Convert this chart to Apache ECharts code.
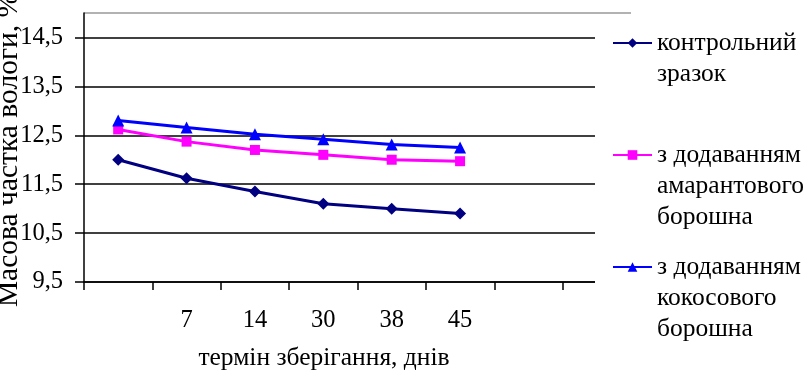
<!DOCTYPE html>
<html>
<head>
<meta charset="utf-8">
<script src="https://cdn.jsdelivr.net/npm/echarts@6/dist/echarts.min.js"></script>
<style>
    html, body { margin: 0; padding: 0; background: #fff; }
    #chart { width: 807px; height: 376px; }
</style>
</head>
<body>
<div id="chart"></div>
<script>
// термін зберігання (дні) - перша і дві останні клітинки порожні, як в оригіналі
const days = ['', '7', '14', '30', '38', '45', '', '']
// масова частка вологи, %
const controlSample = [12.0, 11.62, 11.35, 11.1, 11.0, 10.9]
const amaranthFlour = [12.62, 12.37, 12.2, 12.1, 12.0, 11.97]
const coconutFlour = [12.8, 12.66, 12.52, 12.42, 12.31, 12.25]
const seriesNames = [
    'контрольний\nзразок',
    'з додаванням\nамарантового\nборошна',
    'з додаванням\nкокосового\nборошна'
]
// вісь Y
const yMin = 9.5
const yMax = 15
const yStep = 1

const font = "'Liberation Serif', 'Times New Roman', serif"
const lineH = 31

// окрема легенда на кожен ряд; порожні рядки зверху, щоб значок стояв навпроти першого рядка
function makeLegend (name, top) {
    const lines = name.split('\n').length
    return {
        data: [name],
        orient: 'vertical',
        left: 612,
        top: top,
        padding: 0,
        itemWidth: 39,
        itemHeight: 12,
        selectedMode: false,
        formatter: (n) => '\n'.repeat(lines - 1) + n,
        textStyle: {
            fontFamily: font,
            fontSize: 25.5,
            color: '#000',
            lineHeight: lineH
        }
    }
}

const chart = echarts.init(document.getElementById('chart'))
const option = {
    animation: false,
    backgroundColor: '#fff',
    textStyle: { fontFamily: font },
    grid: {
        left: 84,
        top: 13,
        right: 176,
        bottom: 94,
        outerBoundsMode: 'none'
    },
    legend: [
        makeLegend(seriesNames[0], -3.5),
        makeLegend(seriesNames[1], 77.5),
        makeLegend(seriesNames[2], 189.5)
    ],
    // біла плашка під легендою (область побудови в оригіналі заходить під легенду)
    graphic: [{
        type: 'rect',
        left: 595,
        top: 18,
        z: 1,
        shape: { width: 212, height: 358 },
        style: { fill: '#fff' }
    }],
    xAxis: {
        type: 'category',
        data: days,
        boundaryGap: true,
        axisLine: { lineStyle: { color: '#000', width: 1.5 } },
        axisTick: { show: true, interval: 0, length: 8, lineStyle: { color: '#000', width: 1.5 } },
        axisLabel: { interval: 0, fontFamily: font, fontSize: 24.5, color: '#000', margin: 26 },
        name: 'термін зберігання, днів',
        nameLocation: 'middle',
        nameGap: 63,
        nameMoveOverlap: false,
        nameTextStyle: { fontFamily: font, fontSize: 25.5, color: '#000', padding: [0, 67, 0, 0] }
    },
    yAxis: {
        type: 'value',
        min: yMin,
        max: yMax,
        interval: yStep,
        axisLine: { show: true, lineStyle: { color: '#000', width: 1.5 } },
        axisTick: { show: true, length: 9, lineStyle: { color: '#000', width: 1.5 } },
        axisLabel: {
            fontFamily: font,
            fontSize: 24.5,
            color: '#000',
            margin: 21,
            showMaxLabel: false,
            formatter: (v) => v.toFixed(1).replace('.', ',')
        },
        splitLine: {
            show: true,
            lineStyle: { color: ['#000', '#000', '#000', '#000', '#000', '#000', '#999'], width: 1.5 }
        },
        name: 'Масова частка вологи, %',
        nameLocation: 'middle',
        nameGap: 60,
        nameMoveOverlap: false,
        nameTextStyle: { fontFamily: font, fontSize: 29.5, color: '#000', padding: [0, 5, 0, 0] }
    },
    series: [
        {
            name: seriesNames[0],
            type: 'line',
            data: controlSample,
            symbol: 'diamond',
            symbolSize: 12,
            lineStyle: { color: '#000080', width: 3 },
            itemStyle: { color: '#000080' }
        },
        {
            name: seriesNames[1],
            type: 'line',
            data: amaranthFlour,
            symbol: 'rect',
            symbolSize: 10,
            lineStyle: { color: '#ff00ff', width: 3 },
            itemStyle: { color: '#ff00ff' }
        },
        {
            name: seriesNames[2],
            type: 'line',
            data: coconutFlour,
            symbol: 'triangle',
            symbolSize: 12,
            lineStyle: { color: '#0000ff', width: 3 },
            itemStyle: { color: '#0000ff' }
        }
    ]
}
chart.setOption(option)
</script>
</body>
</html>
